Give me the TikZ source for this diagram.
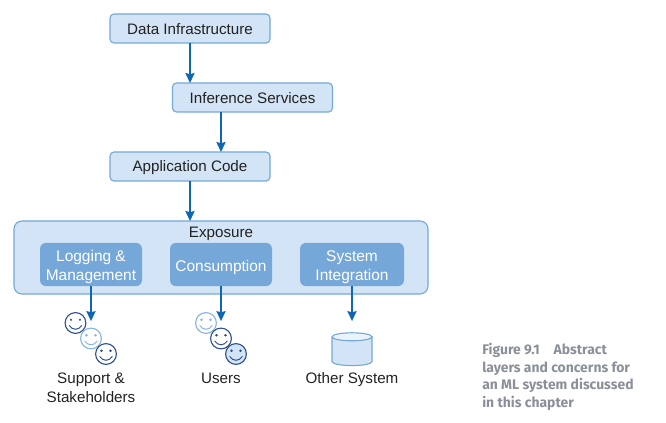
\documentclass[tikz,border=0pt]{standalone}
\usepackage{fontspec}
\setmainfont{Liberation Sans}
\newfontfamily\capfont{Fira Sans}
\usetikzlibrary{arrows.meta,positioning}
\definecolor{boxfill}{HTML}{D2E4F5}
\definecolor{boxline}{HTML}{74A9D8}
\definecolor{innerfill}{HTML}{75A7D9}
\definecolor{arrowblue}{HTML}{0F67B1}
\definecolor{facedark}{HTML}{2F4F8F}
\definecolor{facelight}{HTML}{85B5E0}
\definecolor{txtdark}{HTML}{222222}
\definecolor{capgray}{HTML}{8A8F99}
\tikzset{
  blk/.style={draw=boxline,fill=boxfill,rectangle,rounded corners=0.1cm,line width=0.8pt,outer sep=0pt,minimum width=4cm,minimum height=0.725cm,inner sep=0pt,align=center,font=\fontsize{10.8}{13.4}\selectfont,text=txtdark,execute at begin node={\rule{0pt}{9pt}}},
  outerblk/.style={draw=boxline,fill=boxfill,rectangle,rounded corners=0.2cm,line width=0.8pt,outer sep=0pt,minimum width=10.35cm,minimum height=1.825cm},
  innerblk/.style={fill=innerfill,rectangle,rounded corners=0.15cm,outer sep=0pt,minimum width=2.55cm,minimum height=1.08cm,inner sep=0pt,align=center,font=\fontsize{11}{13.4}\selectfont,text=white},
  twoline/.style={text height=25.5pt},
  lbl/.style={align=center,inner sep=0pt,outer sep=0pt,font=\fontsize{10.8}{13.4}\selectfont,text=txtdark},
  arr/.style={-{Stealth[length=0.25cm,width=0.23cm,inset=0.03cm]},line width=1.1pt,arrowblue},
  caplbl/.style={align=left,anchor=north west,inner sep=0pt,font=\capfont\bfseries\fontsize{9.9}{12.5}\selectfont,text=capgray},
  smiley/.pic={
    \draw[line width=0.8pt,pic actions] (0,0) circle (0.26cm);
    \draw[pic actions,line width=1.9pt,line cap=round] (-0.11,0.08) -- ++(0,0.001);
    \draw[pic actions,line width=1.9pt,line cap=round] (0.11,0.08) -- ++(0,0.001);
    \draw[line width=0.7pt,pic actions,fill=none] (-0.16,-0.06) .. controls (-0.07,-0.19) and (0.07,-0.19) .. (0.16,-0.06);
  },
  dbcyl/.pic={
    \path[fill=boxfill,draw=boxline,line width=0.8pt] (-0.5,0.31) -- (-0.5,-0.31) arc[start angle=180,end angle=360,x radius=0.5,y radius=0.1] -- (0.5,0.31);
    \path[fill=boxfill!45,draw=boxline,line width=0.8pt] (0,0.31) ellipse[x radius=0.5,y radius=0.1];
  }
}

\begin{document}
\begin{tikzpicture}[node distance=1cm and 0.7cm]
  \useasboundingbox (0,0) rectangle (16.65,-10.575);

  \node[blk] (data) at (4.75,-0.7125) {Data Infrastructure};
  \node[blk, below=1cm of data, xshift=1.5625cm] (infer) {Inference Services};
  \node[blk, below=1cm of infer, xshift=-1.5625cm] (app) {Application Code};
  \node[outerblk] (expo) at (5.525,-6.4375) {};
  \node[lbl, below=0.14cm of expo.north] (expolbl) {Exposure};
  \node[innerblk, execute at begin node={\rule{0pt}{12pt}}] (cons) at (5.525,-6.6125) {Consumption};
  \node[innerblk, twoline, left=0.7cm of cons] (logging) {Logging \&\\Management};
  \node[innerblk, twoline, minimum width=2.6cm, right=0.7cm of cons] (sysint) {System\\Integration};

  \coordinate[below=0.875cm of logging] (logend);
  \coordinate[below=0.875cm of cons] (consend);
  \coordinate[below=0.875cm of sysint] (sysend);

  % faces
  \pic[draw=facedark,fill=white] at (1.8875,-8.075) {smiley};
  \pic[draw=facelight,fill=white] at (2.275,-8.4625) {smiley};
  \pic[draw=facedark,fill=white] at (2.65,-8.85) {smiley};
  \pic[draw=facelight,fill=white] at (5.15,-8.075) {smiley};
  \pic[draw=facedark,fill=white] at (5.525,-8.4625) {smiley};
  \pic[draw=facedark,fill=boxfill] at (5.9,-8.85) {smiley};

  \pic at (8.8,-8.73) {dbcyl};

  \node[lbl] (supplbl) at (2.275,-9.7) {Support \&\\Stakeholders};
  \node[lbl,anchor=base] (userlbl) at (5.525,-9.6) {Users};
  \node[lbl,anchor=base] (otherlbl) at (8.8,-9.6) {Other System};
  \node[caplbl] (figcap) at (12.05,-8.58) {Figure 9.1\hspace{1em}Abstract\\layers and concerns for\\an ML system discussed\\in this chapter};

  \draw[arr] (data.south) -- (data.south |- infer.north);
  \draw[arr] (infer.south -| cons) -- (app.north -| cons);
  \draw[arr] (app.south) -- (app.south |- expo.north);
  \draw[arr] (logging.south) -- (logend);
  \draw[arr] (cons.south) -- (consend);
  \draw[arr] (sysint.south) -- (sysend);
\end{tikzpicture}
\end{document}
